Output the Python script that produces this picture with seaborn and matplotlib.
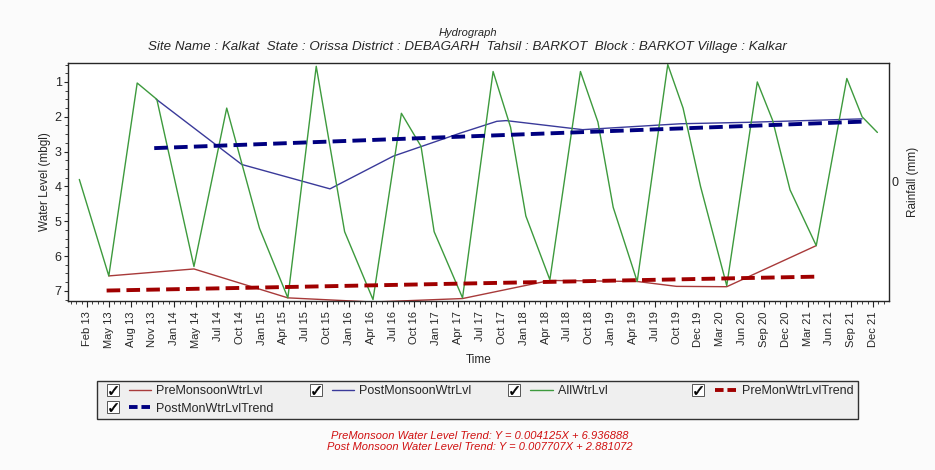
import numpy as np
import pandas as pd
import seaborn as sns
import matplotlib.pyplot as plt
from matplotlib.lines import Line2D
from matplotlib.ticker import MultipleLocator
from matplotlib.legend_handler import HandlerTuple

# tick labels (categorical, evenly spaced)
tick_labels = ["Feb 13", "May 13", "Aug 13", "Nov 13", "Jan 14", "May 14", "Jul 14", "Oct 14",
               "Jan 15", "Apr 15", "Jul 15", "Oct 15", "Jan 16", "Apr 16", "Jul 16", "Oct 16",
               "Jan 17", "Apr 17", "Jul 17", "Oct 17", "Jan 18", "Apr 18", "Jul 18", "Oct 18",
               "Jan 19", "Apr 19", "Jul 19", "Oct 19", "Dec 19", "Mar 20", "Jun 20", "Sep 20",
               "Dec 20", "Mar 21", "Jun 21", "Sep 21", "Dec 21"]

# all water levels (position on the tick scale, mbgl)
all_x = [-0.35, 1.0, 2.3, 3.2, 4.9, 6.4, 7.9, 9.2, 10.5, 11.8, 13.1, 14.4, 15.3, 15.9, 17.2,
         18.6, 19.4, 20.1, 21.2, 22.6, 23.4, 24.1, 25.2, 26.6, 27.3, 28.1, 29.3, 30.7, 31.4,
         32.2, 33.4, 34.8, 35.5, 36.2]
all_y = [3.8, 6.57, 1.03, 1.5, 6.3, 1.75, 5.2, 7.2, 0.55, 5.3, 7.25, 1.9, 2.85, 5.3, 7.2,
         0.7, 2.3, 4.85, 6.68, 0.7, 2.15, 4.6, 6.73, 0.5, 1.75, 4.0, 6.85, 1.0, 2.1,
         4.1, 5.7, 0.9, 2.0, 2.45]

# pre monsoon water level
pre_x = [1.0, 4.9, 9.2, 13.1, 17.2, 21.2, 25.2, 27.0, 29.3, 33.4]
pre_y = [6.57, 6.37, 7.2, 7.32, 7.22, 6.7, 6.73, 6.87, 6.88, 5.7]

# post monsoon water level
post_x = [3.16, 7.09, 11.13, 14.03, 17.09, 18.77, 19.2, 22.7, 27.2, 30.2, 35.5]
post_y = [1.49, 3.37, 4.07, 3.13, 2.47, 2.13, 2.11, 2.37, 2.2, 2.16, 2.06]

# trend lines
pre_trend_x = [0.9, 33.5]
pre_trend_y = [6.99, 6.59]
post_trend_x = [3.08, 35.5]
post_trend_y = [2.9, 2.14]

sns.set_style("ticks")
plt.rcParams["font.family"] = ["Liberation Sans", "DejaVu Sans"]

fig = plt.figure(figsize=(9.35, 4.7), dpi=100, facecolor="#fbfbfb")
ax = fig.add_axes([0.0727, 0.3596, 0.8783, 0.5064])
ax.set_facecolor("white")

red = "#a83a3a"
blue = "#3a3a9a"
green = "#3d9a3d"

sns.lineplot(x=pre_x, y=pre_y, ax=ax, color=red, lw=1.0, sort=False, label="PreMonsoonWtrLvl")
sns.lineplot(x=post_x, y=post_y, ax=ax, color=blue, lw=1.0, sort=False, label="PostMonsoonWtrLvl")
sns.lineplot(x=all_x, y=all_y, ax=ax, color=green, lw=1.0, sort=False, label="AllWtrLvl")
sns.lineplot(x=pre_trend_x, y=pre_trend_y, ax=ax, color="#a00000", lw=2.8, sort=False,
             dashes=False, label="PreMonWtrLvlTrend")
sns.lineplot(x=post_trend_x, y=post_trend_y, ax=ax, color="#000080", lw=2.8, sort=False,
             dashes=False, label="PostMonWtrLvlTrend")
lines = ax.get_lines()
for ln in lines[3:]:
    ln.set_dashes((3.5, 1.6))
ax.get_legend().remove()

ax.set_xlim(-0.87, 36.74)
ax.set_ylim(7.29, 0.455)
ax.set_xticks(range(len(tick_labels)))
ax.set_xticklabels(tick_labels, rotation=90, fontsize=8)
ax.xaxis.set_minor_locator(MultipleLocator(0.25))
ax.set_yticks(range(1, 8))
ax.yaxis.set_minor_locator(MultipleLocator(0.25))
ax.tick_params(axis="y", labelsize=9, length=3, width=0.8, pad=1.5)
ax.tick_params(axis="x", length=4, width=0.8)
ax.tick_params(which="minor", length=2, width=0.6)
for s in ax.spines.values():
    s.set_color("black")
    s.set_linewidth(0.9)
ax.set_xlabel("Time", fontsize=8.5)
ax.set_ylabel("Water Level (mbgl)", fontsize=8.5, labelpad=3)

ax2 = ax.twinx()
ax2.set_ylim(-1, 1)
ax2.set_yticks([0])
ax2.tick_params(axis="y", length=0, labelsize=9, pad=2)
ax2.set_ylabel("Rainfall (mm)", fontsize=8.5, labelpad=6)

fig.text(0.5, 0.93, "Hydrograph", ha="center", va="center", fontsize=8, style="italic")
fig.text(0.5, 0.9, "Site Name : Kalkat  State : Orissa District : DEBAGARH  Tahsil : BARKOT  Block : BARKOT Village : Kalkar",
         ha="center", va="center", fontsize=9.6, style="italic")

# legend with checkboxes
handles, hmap = [], {}
for ln in lines:
    box = Line2D([], [], ls="none", marker="s", ms=8.5, mfc="white", mec="#555555", mew=0.7)
    chk = Line2D([], [], ls="none", marker=r"$\checkmark$", ms=6, color="black", mew=0.4)
    h = Line2D([], [], color=ln.get_color(), lw=ln.get_linewidth())
    if ln in lines[3:]:
        h.set_dashes((2.2, 1.0))
    outer = ((box, chk), h)
    handles.append(outer)
    hmap[outer] = HandlerTuple(ndivide=None, pad=0.4)
labels = [ln.get_label() for ln in lines]
# the third column is wider than its text in the original
labels[2] = labels[2] + " " * 14
# columns fill top to bottom: order so rows read Pre, Post, All, PreTrend / PostTrend
order = [0, 4, 1, 2, 3]
leg = fig.legend([handles[i] for i in order], [labels[i] for i in order], handler_map=hmap,
                 loc="lower left", bbox_to_anchor=(0.1037, 0.1085, 0.814, 0.085), mode="expand",
                 ncol=4, fontsize=9, frameon=True, fancybox=False, handlelength=4.0,
                 borderaxespad=0, borderpad=0.35, labelspacing=0.45, handletextpad=0.4)
leg.get_frame().set_edgecolor("black")
leg.get_frame().set_facecolor("#ececec")
leg.get_frame().set_linewidth(1.0)

fig.text(0.513, 0.0723, "PreMonsoon Water Level Trend: Y = 0.004125X + 6.936888", ha="center",
         va="center", fontsize=8, style="italic", color="#d01010")
fig.text(0.513, 0.049, "Post Monsoon Water Level Trend: Y = 0.007707X + 2.881072", ha="center",
         va="center", fontsize=8, style="italic", color="#d01010")

fig.savefig("out.png", dpi=100, facecolor=fig.get_facecolor())
